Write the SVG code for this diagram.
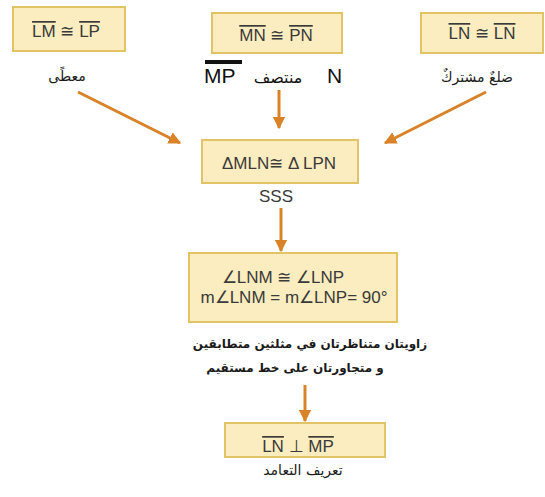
<svg xmlns="http://www.w3.org/2000/svg" width="545" height="497" viewBox="0 0 545 497">
  <defs>
    <marker id="head" viewBox="0 0 10 10" refX="9" refY="5" markerWidth="4.2" markerHeight="4.2" orient="auto" markerUnits="strokeWidth">
      <path d="M0,0 L10,5 L0,10 Z" fill="#D98227"/>
    </marker>
  </defs>
  <style>
    .box { fill: #FBEDBF; stroke: #E2C467; stroke-width: 2; }
    .math { font-family: "Liberation Sans", Arial, sans-serif; font-size: 17px; fill: #3a3a3a; text-anchor: middle; }
    .ov { text-decoration: overline; }
    .ar { font-family: "DejaVu Sans", sans-serif; font-size: 14px; fill: #1a1a1a; text-anchor: middle; }
    .arb { font-weight: bold; font-size: 12px; }
    .link { stroke: #D98227; stroke-width: 3; fill: none; marker-end: url(#head); }
  </style>

  <rect width="545" height="497" fill="#ffffff"/>

  <!-- given -->
  <g id="given">
    <rect class="box" x="13" y="7" width="112" height="44"/>
    <text class="math" x="66" y="37"><tspan class="ov">LM</tspan> ≅ <tspan class="ov">LP</tspan></text>
    <text class="ar" x="67" y="81">معطًى</text>
  </g>

  <!-- midpoint -->
  <g id="midpoint">
    <rect class="box" x="212" y="13" width="130" height="40"/>
    <text class="math" x="276" y="41"><tspan class="ov">MN</tspan> ≅ <tspan class="ov">PN</tspan></text>
    <rect x="205" y="60" width="37" height="4" fill="#111"/>
    <text x="204" y="83" font-family="Liberation Sans, Arial, sans-serif" font-size="21" fill="#111">MP</text>
    <text x="278" y="83" font-family="DejaVu Sans, sans-serif" font-size="16" fill="#111" text-anchor="middle">منتصف</text>
    <text x="327" y="83" font-family="Liberation Sans, Arial, sans-serif" font-size="21" fill="#111">N</text>
  </g>

  <!-- common side -->
  <g id="common">
    <rect class="box" x="421" y="13" width="122" height="40"/>
    <text class="math" x="482" y="39"><tspan class="ov">LN</tspan> ≅ <tspan class="ov">LN</tspan></text>
    <text class="ar" x="477" y="82" font-size="15">ضلعٌ مشتركٌ</text>
  </g>

  <!-- triangles -->
  <g id="triangles">
    <rect class="box" x="202" y="140" width="156" height="43"/>
    <text class="math" x="279" y="169" font-size="19">ΔMLN≅ Δ LPN</text>
    <text class="math" x="276" y="202" font-size="16">SSS</text>
  </g>

  <!-- angles -->
  <g id="angles">
    <rect class="box" x="189" y="253" width="208" height="69"/>
    <text class="math" x="283" y="283" font-size="18">∠LNM ≅ ∠LNP</text>
    <text class="math" x="294" y="303" font-size="18">m∠LNM = m∠LNP= 90°</text>
    <text class="ar arb" x="310" y="348">زاويتان متناظرتان في مثلثين متطابقين</text>
    <text class="ar arb" x="295" y="372">و متجاورتان على خط مستقيم</text>
  </g>

  <!-- perpendicular -->
  <g id="perpendicular">
    <rect class="box" x="225" y="423" width="160" height="34"/>
    <text class="math" x="298" y="452"><tspan class="ov">LN</tspan>  ⊥ <tspan class="ov">MP</tspan></text>
    <text class="ar" x="303" y="475" font-size="15">تعريف التعامد</text>
  </g>

  <!-- connectors -->
  <g id="connectors">
    <line class="link" x1="78" y1="92" x2="180" y2="143"/>
    <line class="link" x1="486" y1="92" x2="385" y2="143"/>
    <line class="link" x1="279" y1="90" x2="279" y2="128"/>
    <line class="link" x1="281" y1="208" x2="281" y2="251"/>
    <line class="link" x1="305" y1="385" x2="305" y2="421"/>
  </g>
</svg>
